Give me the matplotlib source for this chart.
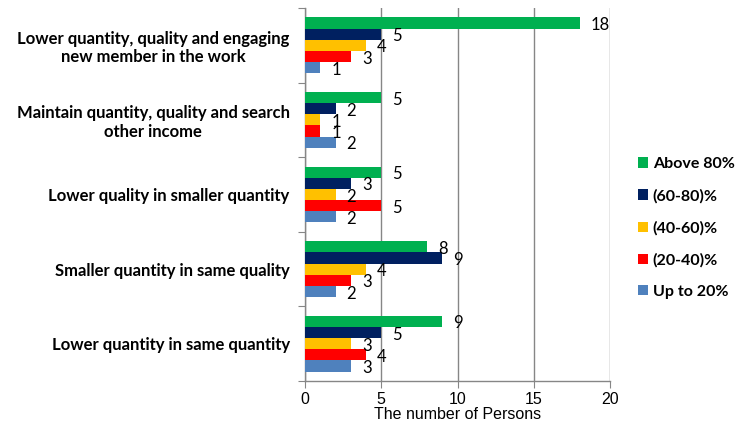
import matplotlib
matplotlib.use("Agg")
import matplotlib.pyplot as plt
from matplotlib.patches import Patch
import numpy as np

categories = [
    "Lower quantity, quality and engaging\nnew member in the work",
    "Maintain quantity, quality and search\nother income",
    "Lower quality in smaller quantity",
    "Smaller quantity in same quality",
    "Lower quantity in same quantity",
]
series_names = ["Above 80%", "(60-80)%", "(40-60)%", "(20-40)%", "Up to 20%"]
above_80 = [18, 5, 5, 8, 9]
pct_60_80 = [5, 2, 3, 9, 5]
pct_40_60 = [4, 1, 2, 4, 3]
pct_20_40 = [3, 1, 5, 3, 4]
up_to_20 = [1, 2, 2, 2, 3]
series_values = [above_80, pct_60_80, pct_40_60, pct_20_40, up_to_20]
colors = ["#00B050", "#002060", "#FFC000", "#FF0000", "#4F81BD"]
x_ticks = [0, 5, 10, 15, 20]

W, H = 741, 426
fig = plt.figure(figsize=(W / 100, H / 100), dpi=100)
ax = fig.add_axes([305 / W, 1 - 381 / H, 305 / W, 373 / H])

n = len(series_names)
bar_h = 0.15
ypos = np.arange(len(categories))
for j, (name, vals, col) in enumerate(zip(series_names, series_values, colors)):
    offs = (j - (n - 1) / 2) * bar_h
    bars = ax.barh(ypos + offs, vals, height=bar_h, color=col, label=name, zorder=3)
    for b, v in zip(bars, vals):
        ax.annotate(str(v), (b.get_width(), b.get_y() + b.get_height() / 2),
                    xytext=(8, -1.5), textcoords="offset points",
                    ha="left", va="center", fontsize=12, family="Lato",
                    color="black", zorder=5)

ax.set_ylim(len(categories) - 0.5, -0.5)
ax.set_xlim(0, 20)
ax.set_xticks(x_ticks)
ax.set_xticklabels([str(t) for t in x_ticks], fontsize=11.5, family="Liberation Sans")
ax.set_xlabel("The number of Persons", fontsize=11.5, family="Liberation Sans", labelpad=0)

# category boundary ticks on the left, labels centred on each group
ax.set_yticks(np.arange(-0.5, len(categories), 1.0))
ax.set_yticklabels([])
ax.set_yticks(ypos, minor=True)
ax.set_yticklabels(categories, minor=True, fontsize=12, family="Lato",
                   fontweight="bold", ha="right", multialignment="center")
ax.tick_params(axis="y", which="minor", length=0, pad=11)
ax.tick_params(axis="y", which="major", length=5, color="#868686", direction="out")
ax.tick_params(axis="x", length=5, color="#868686", direction="out", pad=3)

ax.grid(axis="x", color="#868686", linewidth=1, zorder=0)
for s in ["top", "right"]:
    ax.spines[s].set_visible(False)
for s in ["left", "bottom"]:
    ax.spines[s].set_color("#868686")
    ax.spines[s].set_linewidth(1)

handles = [Patch(facecolor=c, label=nm) for c, nm in zip(colors, series_names)]
fig.legend(handles=handles, loc="center left", bbox_to_anchor=(624 / W, 1 - 228 / H),
           frameon=False, handlelength=0.6, handleheight=0.6, handletextpad=0.3,
           labelspacing=1.1, prop={"family": "Lato", "weight": "bold", "size": 11.5})

fig.savefig("out.png", dpi=100)
